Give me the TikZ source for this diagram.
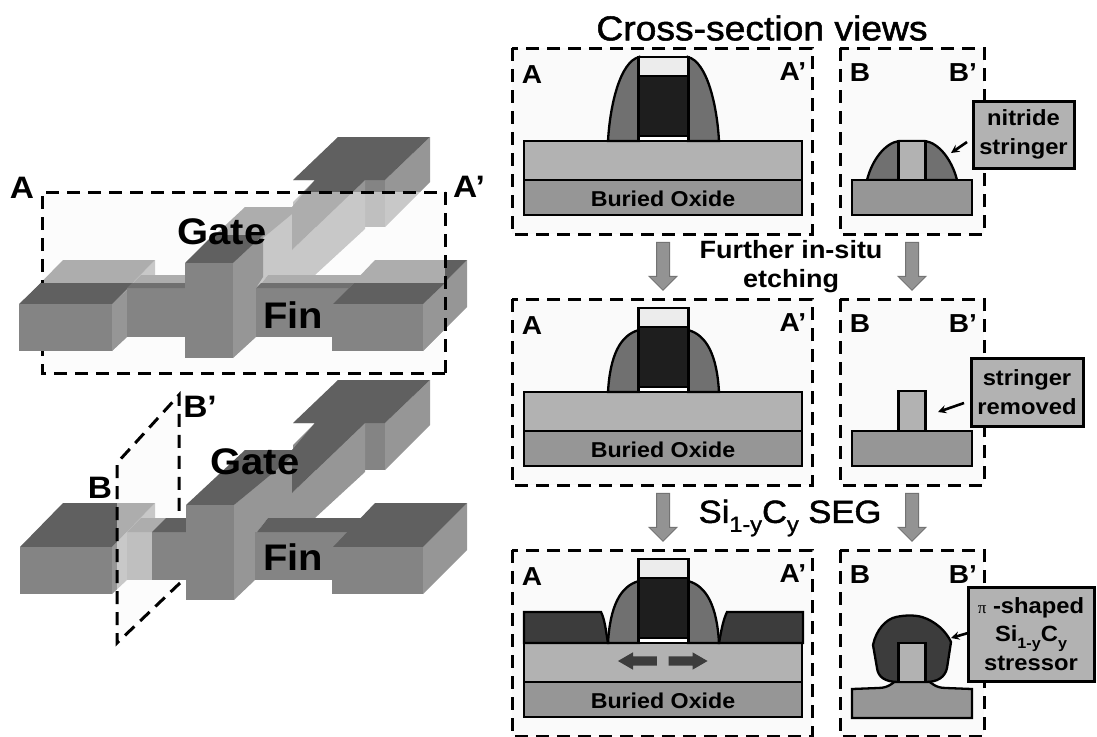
\documentclass[tikz,border=0pt]{standalone}
\usepackage{fontspec}
\usepackage{graphicx}
\usepackage{xcolor}
\setmainfont[FakeStretch=1.08]{Liberation Sans}
\newfontfamily\pisymbol{Liberation Serif}
\newfontfamily\headfont[FakeStretch=1.08,FakeBold=1.5]{Liberation Sans}
\usetikzlibrary{shapes.arrows, arrows, positioning, calc}
\definecolor{topgray}{HTML}{606060}
\definecolor{frontgray}{HTML}{848484}
\definecolor{sidegray}{HTML}{969696}
\definecolor{wedgegray}{HTML}{8C8C8C}
\definecolor{sigray}{HTML}{B2B2B2}
\definecolor{boxgray}{HTML}{969696}
\definecolor{spacergray}{HTML}{707070}
\definecolor{gatedark}{HTML}{1E1E1E}
\definecolor{maskgray}{HTML}{ECECEC}
\definecolor{stressdark}{HTML}{3C3C3C}
\definecolor{panelgray}{HTML}{FAFAFA}
\newcommand{\subtext}[1]{\raisebox{-0.28em}{\scalebox{0.68}{#1}}}
% one device, in the coordinates of the lower view
\newcommand{\devicelayer}{
    % rear pad
    \fill[wedgegray] (293,423) -- (315,423) -- (293,445) -- (293,470) -- (365,470) -- (365,423) -- cycle;
    \fill[frontgray] (365,423) -- (385,423) -- (385,470) -- (365,470) -- cycle;
    \fill[sidegray] (385,423) -- (430,380) -- (430,425) -- (385,470) -- cycle;
    % gate side and top
    \fill[sidegray] (234,505) -- (292,455) -- (292,493) -- (365,423) -- (365,472) -- (315,518) -- (268,518) -- (257,532) -- (255,580) -- (234,600) -- cycle;
    \fill[topgray] (338,380) -- (430,380) -- (385,423) -- (365,423) -- (292,493) -- (292,450) -- (315,423) -- (293,423) -- cycle;
    \fill[topgray] (186,505) -- (245,450) -- (292,450) -- (292,457) -- (234,505) -- cycle;
    % left pad and fin
    \fill[sidegray] (112,547) -- (155,503) -- (155,518) -- (127,547) -- (127,580) -- (112,594) -- cycle;
    \fill[topgray] (20,547) -- (63,503) -- (155,503) -- (112,547) -- cycle;
    \fill[frontgray] (20,547) rectangle (112,594);
    \fill[frontgray] (127,532) rectangle (186,580);
    \fill[topgray] (127,532) -- (141,518) -- (186,518) -- (186,532) -- cycle;
    % right pad and fin
    \fill[frontgray] (255,532) rectangle (350,580);
    \fill[topgray] (257,532) -- (268,518) -- (363,518) -- (349,532) -- cycle;
    \fill[sidegray] (423,547) -- (467,503) -- (467,550) -- (423,594) -- cycle;
    \fill[topgray] (333,547) -- (375,503) -- (467,503) -- (423,547) -- cycle;
    \fill[frontgray] (332,547) rectangle (423,594);
}
\begin{document}
\begin{tikzpicture}[x=1pt, y=-1pt,
    cutline/.style={draw=black, line width=3pt, dash pattern=on 13pt off 8pt},
    panel/.style={cutline, fill=panelgray},
    layer/.style={draw=black, line width=2.3pt},
    viewlabel/.style={inner sep=0pt, font=\fontsize{37}{37}\selectfont\bfseries},
    cutlabel/.style={inner sep=0pt, font=\fontsize{31}{31}\selectfont\bfseries},
    panellabel/.style={inner sep=0pt, font=\fontsize{26}{26}\selectfont\bfseries},
    oxidelabel/.style={inner sep=0pt, font=\fontsize{21.5}{21.5}\selectfont\bfseries},
    steplabel/.style={inner sep=0pt, align=center, font=\fontsize{25}{29}\selectfont\bfseries},
    titlelabel/.style={inner sep=0pt, font=\fontsize{34.5}{34.5}\headfont},
    seglabel/.style={inner sep=0pt, font=\fontsize{32}{32}\headfont},
    callout/.style={draw=black, line width=3pt, fill=sigray, inner sep=0pt, align=center, font=\fontsize{22}{29}\selectfont\bfseries},
    downarrow/.style={single arrow, rotate=-90, draw=gray!90!black, fill=gray!85, inner xsep=0pt, inner ysep=6pt, minimum height=48pt, single arrow head extend=7.5pt, line width=1pt},
    strainarrow/.style={single arrow, fill=stressdark, inner xsep=0pt, inner ysep=4.5pt, minimum height=39pt, single arrow head extend=4pt, single arrow tip angle=60},
    pointer/.style={->, >=stealth, line width=2.6pt}
]
    \useasboundingbox (0,0) rectangle (1097,736);

    % Upper device, cut along A-A'
    \begin{scope}[shift={(0,-243)}]
        \devicelayer
    \end{scope}
    \fill[panelgray, fill opacity=0.5] (42,192) rectangle (445,373);
    \draw[cutline] (445,373) -- (42,373) -- (42,192) -- (445,192);
    % parts in front of the cut
    \fill[sidegray] (112,304) -- (127,290) -- (127,337) -- (112,351) -- cycle;
    \fill[topgray] (19,304) -- (41,283) -- (133,283) -- (112,304) -- cycle;
    \fill[frontgray] (19,304) rectangle (112,351);
    \fill[frontgray] (127,288) rectangle (186,337);
    \fill[topgray!90!white] (127,288) -- (132,283) -- (186,283) -- (186,288) -- cycle;
    \fill[sidegray] (233,263) -- (263,235) -- (263,277) -- (256,288) -- (256,337) -- (233,358) -- cycle;
    \fill[topgray] (185,263) -- (213,235) -- (263,235) -- (233,263) -- cycle;
    \fill[frontgray] (185,263) rectangle (233,358);
    \fill[frontgray] (256,288) rectangle (350,337);
    \fill[topgray!90!white] (256,288) -- (261,283) -- (354,283) -- (349,288) -- cycle;
    \fill[sidegray] (423,304) -- (445,283) -- (445,329) -- (423,351) -- cycle;
    \fill[topgray] (333,304) -- (354,283) -- (445,283) -- (423,304) -- cycle;
    \fill[frontgray] (332,304) rectangle (423,351);
    \draw[cutline] (445,192) -- (445,373);
    \node[cutlabel] (labelA) at (22,188) {A};
    \node[cutlabel] (labelAp) at (469,187) {A’};
    \node[viewlabel] (gateUp) at (222,232) {Gate};
    \node[viewlabel] (finUp) at (293,315) {Fin};

    % Lower device, cut along B-B'
    \devicelayer
    \coordinate (bl) at (117,643);
    \coordinate (tl) at (117,463);
    \coordinate (tr) at (179,395);
    \coordinate (fr) at (179,518);
    \coordinate (br) at (180,583);
    \fill[panelgray, fill opacity=0.5] (tl) -- (tr) -- (br) -- (bl) -- cycle;
    \fill[frontgray] (152,532) rectangle (186,580);
    \fill[topgray] (152,532) -- (166,518) -- (186,518) -- (186,532) -- cycle;
    \fill[frontgray] (186,505) rectangle (234,600);
    \draw[cutline] (br) -- (bl) -- (tl) -- (tr) -- (fr);
    \node[cutlabel] (labelB) at (100,488) {B};
    \node[cutlabel] (labelBp) at (200,407) {B’};
    \node[viewlabel] (gateDown) at (255,462) {Gate};
    \node[viewlabel] (finDown) at (293,557) {Fin};

    % Cross-section panels
    \node[titlelabel] (title) at (762,28) {Cross-section views};
    \foreach \rowy/\rowtop in {0/57, 251/79, 502/79} {
        \begin{scope}[shift={(0,\rowy)}]
            \draw[panel] (512,48) rectangle (812,234);
            \draw[layer, fill=sigray] (524,141) rectangle (802,180);
            \draw[layer, fill=boxgray] (524,180) rectangle (802,215);
            \node[oxidelabel] (oxide\rowy) at (663,199) {Buried Oxide};
            \draw[layer, fill=spacergray] (608,141) .. controls (610,105) and (620,\rowtop+5) .. (639,\rowtop) -- (639,141) -- cycle;
            \draw[layer, fill=spacergray] (719,141) .. controls (717,105) and (707,\rowtop+5) .. (688,\rowtop) -- (688,141) -- cycle;
            \draw[layer, fill=maskgray] (638.5,57) rectangle (688.5,76);
            \draw[layer, fill=gatedark] (638.5,76) rectangle (688.5,136);
            \draw[layer, fill=white] (638.5,136) rectangle (688.5,141);
            \node[panellabel] (panelA\rowy) at (532,75) {A};
            \node[panellabel] (panelAp\rowy) at (793,72) {A’};
            \draw[panel] (840,48) rectangle (984,234);
            \node[panellabel] (panelB\rowy) at (860,73) {B};
            \node[panellabel] (panelBp\rowy) at (963,73) {B’};
        \end{scope}
    }

    % Right column, first row
    \draw[layer, fill=spacergray] (867,180) .. controls (872,160) and (885,143) .. (899,141) -- (925,141) .. controls (939,143) and (952,160) .. (957,180) -- cycle;
    \draw[layer, fill=sigray] (898.5,141) rectangle (925.5,180);
    \draw[layer, fill=boxgray] (852,180) rectangle (972,215);
    \node[callout, minimum width=101pt, minimum height=67pt] (nitride) at (1023.5,134.5) {nitride\\stringer};
    \coordinate (nitrideTail) at (967,142);
    \coordinate (nitrideTip) at (951,153);
    \draw[pointer] (nitrideTail) -- (nitrideTip);

    % Right column, second row
    \draw[layer, fill=sigray] (898.5,391) rectangle (925.5,431);
    \draw[layer, fill=boxgray] (852,431) rectangle (972,466);
    \node[callout, minimum width=112pt, minimum height=68pt] (removed) at (1027,392) {stringer\\removed};
    \coordinate (removedTail) at (964,403);
    \coordinate (removedTip) at (938,412);
    \draw[pointer] (removedTail) -- (removedTip);

    % Third row, raised stressor
    \draw[layer, fill=stressdark] (524,643) -- (524,612) -- (601,612) .. controls (605,620) and (606,632) .. (608,643) -- cycle;
    \draw[layer, fill=stressdark] (803,643) -- (803,612) -- (727,612) .. controls (723,620) and (721,632) .. (719,643) -- cycle;
    \node[strainarrow, rotate=180] (strainL) at (641.5,661) {};
    \node[strainarrow] (strainR) at (684,661) {};
    \draw[layer, fill=boxgray] (852,718) -- (852,689) -- (878,688) .. controls (890,688) and (892,682) .. (898.5,680) -- (925.5,680) .. controls (932,682) and (934,688) .. (946,688) -- (972,689) -- (972,718) -- cycle;
    \draw[layer, fill=stressdark] (898.5,682) .. controls (885,682) and (878,677) .. (877,668) -- (873,645) .. controls (876,630) and (886,619) .. (896,617) .. controls (905,615) and (915,615) .. (922,617) .. controls (935,621) and (946,631) .. (951,642) -- (947,668) .. controls (945,677) and (938,682) .. (925.5,682) -- cycle;
    \draw[layer, fill=sigray] (898.5,643) rectangle (925.5,682);
    \node[callout, minimum width=126pt, minimum height=94pt, font=\fontsize{22}{28.5}\selectfont\bfseries] (stressor) at (1031,634) {{\pisymbol\mdseries\fontsize{17}{17}\selectfont π} -shaped\\Si\subtext{1-y}C\subtext{y}\\stressor};
    \coordinate (stressorTail) at (968,633);
    \coordinate (stressorTip) at (951,638);
    \draw[pointer] (stressorTail) -- (stressorTip);

    % Process arrows and step labels
    \node[downarrow] (downA) at (663,263) {};
    \node[downarrow] (downB) at (912,263) {};
    \node[downarrow] (downC) at (663,514) {};
    \node[downarrow] (downD) at (912,514) {};
    \node[steplabel] (further) at (791,267) {Further in-situ\\etching};
    \node[seglabel] (seg) at (790,518) {Si\subtext{1-y}C\subtext{y} SEG};
\end{tikzpicture}
\end{document}
